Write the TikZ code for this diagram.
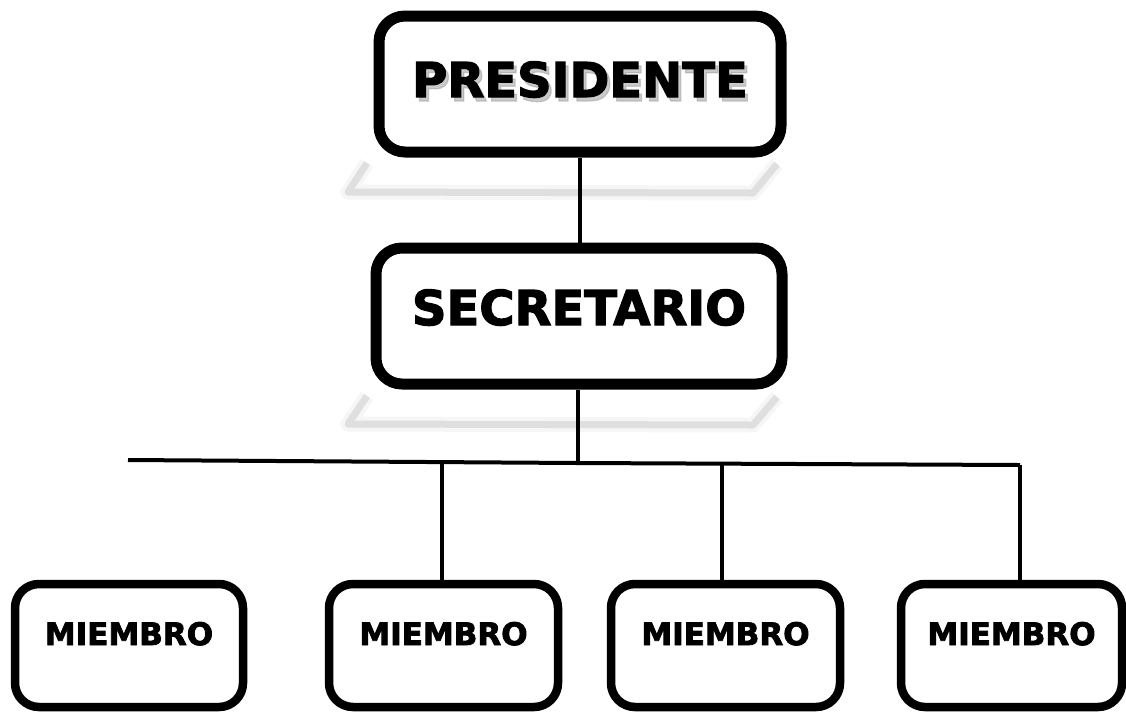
\documentclass[tikz,border=0pt]{standalone}
\usepackage{fontspec}
\setmainfont{DejaVu Sans}
\newfontfamily\heavyfont{DejaVu Sans}[BoldFeatures={FakeBold=2.5}]
\begin{document}
\begin{tikzpicture}[x=1pt,y=-1pt,
    head/.style={draw,line width=11pt,rounded corners=26pt,inner sep=0pt,
      font=\heavyfont\bfseries\fontsize{48}{48}\selectfont},
    headshade/.style={inner sep=0pt,text=gray!70,opacity=0.6,
      font=\heavyfont\bfseries\fontsize{48}{48}\selectfont},
    member/.style={draw,line width=8.5pt,rounded corners=24pt,inner sep=0pt,
      minimum width=228pt,text height=61pt,text depth=62pt,
      font=\heavyfont\bfseries\fontsize{31}{31}\selectfont},
    link/.style={line width=4pt},
    glow/.style={gray,line width=7pt,opacity=0.2,line join=round},
    softglow/.style={gray,line width=15pt,opacity=0.07,line join=round}]
      \useasboundingbox (0,0) rectangle (1126,713);
      % soft reflections under the two upper boxes
      \draw[softglow] (367,163) -- (348,192) -- (753,193) -- (777,164);
      \draw[glow] (367,163) -- (348,192) -- (753,193) -- (777,164);
      \draw[softglow] (367,396) -- (348,424) -- (753,425) -- (777,397);
      \draw[glow] (367,396) -- (348,424) -- (753,425) -- (777,397);
      \node[headshade,text height=81pt,text depth=55pt] (Psh) at (583,88) {PRESIDENTE};
      \node[head,minimum width=402pt,text height=81pt,text depth=55pt] (P) at (580,84) {PRESIDENTE};
      \node[head,minimum width=406pt,text height=77pt,text depth=59pt] (S) at (579,316) {SECRETARIO};
      \node[member] (M1) at (129,645.5) {MIEMBRO};
      \node[member,minimum width=229pt] (M2) at (443.5,645.5) {MIEMBRO};
      \node[member,minimum width=229pt] (M3) at (725.5,645.5) {MIEMBRO};
      \node[member,minimum width=221pt] (M4) at (1011.5,645.5) {MIEMBRO};
      \coordinate (busl) at (128,460);
      \coordinate (bus) at (578,463);
      \coordinate (busr) at (1020,465);
      \coordinate (tap2) at (442,463);
      \coordinate (tap3) at (722,464);
      \begin{scope}[link]
        \draw (P.south) -- (P.south |- S.north);
        \draw (S.south -| bus) -- (bus);
        \draw (busl) -- (bus) -- (busr);
        \draw (tap2) -- (tap2 |- M2.north);
        \draw (tap3) -- (tap3 |- M3.north);
        \draw (busr) -- (busr |- M4.north);
      \end{scope}
    \end{tikzpicture}
\end{document}
